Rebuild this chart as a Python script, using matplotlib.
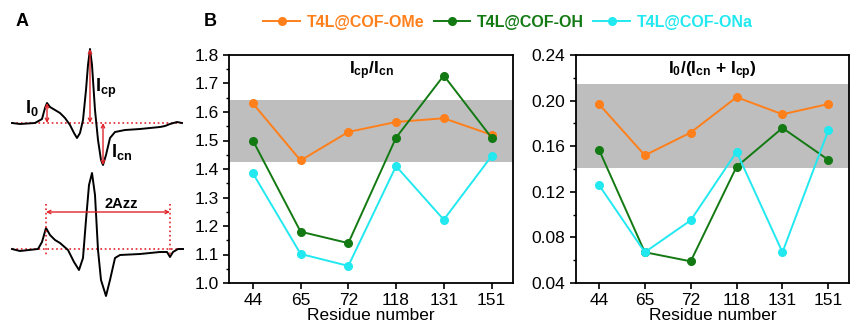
import numpy as np
import matplotlib.pyplot as plt
from matplotlib.ticker import MultipleLocator

plt.rcParams['font.family'] = ['Liberation Sans', 'DejaVu Sans']
plt.rcParams['mathtext.fontset'] = 'custom'
plt.rcParams['mathtext.rm'] = 'Liberation Sans'
plt.rcParams['mathtext.bf'] = 'Liberation Sans:bold'

# Data
residues = ['44', '65', '72', '118', '131', '151']
series = ['T4L@COF-OMe', 'T4L@COF-OH', 'T4L@COF-ONa']
colors = ['#FF7F1A', '#137A13', '#22E8F0']

ratio_ome = [1.63, 1.43, 1.53, 1.565, 1.578, 1.52]
ratio_oh = [1.50, 1.18, 1.14, 1.51, 1.728, 1.51]
ratio_ona = [1.385, 1.102, 1.06, 1.41, 1.222, 1.445]
ratio_band = [1.423, 1.643]

i0_ome = [0.197, 0.152, 0.172, 0.203, 0.188, 0.197]
i0_oh = [0.157, 0.067, 0.059, 0.142, 0.176, 0.148]
i0_ona = [0.126, 0.067, 0.095, 0.155, 0.067, 0.174]
i0_band = [0.141, 0.215]

# schematic EPR spectra (field, intensity above baseline)
spec1_x = [12, 20, 35, 42, 45, 47, 50, 55, 60, 65, 70, 74, 77, 80, 83, 86, 88, 90,
           92, 95, 98, 101, 103, 106, 110, 115, 125, 140, 160, 165, 170, 177, 182]
spec1_y = [0, -1, 0, 4, 15, 20, 16, 13, 10, 5, -2, -10, -15, -10, 3, 33, 58, 74,
           58, 13, -17, -37, -42, -32, -15, -9, -7, -6, -4, -3, -1, 1, 0]
spec2_x = [12, 20, 38, 42, 46, 50, 55, 60, 68, 74, 79, 83, 86, 89, 92, 95, 98, 101,
           106, 110, 115, 120, 140, 160, 167, 170, 173, 178, 183]
spec2_y = [0, -2, 0, 7, 21, 14, 9, 6, -1, -13, -21, -9, 29, 64, 76, 54, -1, -31,
           -47, -31, -9, -6, -5, -3, -3, -8, -3, 0, 0]

fig = plt.figure(figsize=(8.51, 3.27), dpi=100)

# Panel A
axA = fig.add_axes([0, 0, 190 / 851, 1])
axA.set_xlim(0, 190)
axA.set_ylim(327, 0)
axA.axis('off')
red = '#E0242A'
base1, base2 = 123, 249
s1x, s1y = np.array(spec1_x), base1 - np.array(spec1_y)
s2x, s2y = np.array(spec2_x), base2 - np.array(spec2_y)
axA.hlines(base1, 12, 182, color=red, ls=':', lw=1.2)
axA.hlines(base2, 12, 183, color=red, ls=':', lw=1.2)
axA.plot(s1x, s1y, color='k', lw=1.4)
axA.plot(s2x, s2y, color='k', lw=1.4)
i_p0 = int(np.argmin(s1y[:10]))
i_cp = int(np.argmin(s1y))
i_cn = int(np.argmax(s1y))
arrow = dict(arrowstyle='<->', color=red, lw=1.0, mutation_scale=6, shrinkA=0, shrinkB=0)
for i in [i_p0, i_cp, i_cn]:
    axA.annotate('', xy=(s1x[i], s1y[i]), xytext=(s1x[i], base1), arrowprops=arrow)
axA.text(32, 108, r'$\mathbf{I_0}$', fontsize=13, ha='center', va='center')
axA.text(106, 88, r'$\mathbf{I_{cp}}$', fontsize=13, ha='center', va='center')
axA.text(122, 152, r'$\mathbf{I_{cn}}$', fontsize=13, ha='center', va='center')
j_l = int(np.argmin(s2y[:10]))
j_r = len(spec2_x) - 4
for j in [j_l, j_r]:
    axA.vlines(s2x[j], 204, 257, color=red, ls=':', lw=1.2)
axA.annotate('', xy=(s2x[j_l], 212), xytext=(s2x[j_r], 212), arrowprops=arrow)
axA.text(121, 204, '2Azz', fontsize=10.5, fontweight='bold', ha='center', va='center')
fig.text(22 / 851, 1 - 22 / 327, 'A', fontsize=13, fontweight='bold', ha='center', va='center')
fig.text(210 / 851, 1 - 22 / 327, 'B', fontsize=13, fontweight='bold', ha='center', va='center')

# Panel B
x = np.arange(len(residues))
ax1 = fig.add_axes([229 / 851, 44 / 327, 284 / 851, 228 / 327])
ax2 = fig.add_axes([576 / 851, 44 / 327, 273 / 851, 228 / 327])

def draw(ax, data, band, ylim, major, minor, title, fmt):
    ax.axhspan(band[0], band[1], color='#BEBEBE', lw=0, zorder=0)
    lines = []
    for vals, c, name in zip(data, colors, series):
        ln, = ax.plot(x, vals, color=c, lw=1.4, marker='o', ms=5.5,
                      mec=c, mfc=c, label=name)
        lines.append(ln)
    ax.set_xlim(-0.5, 5.45)
    ax.set_ylim(*ylim)
    ax.set_xticks(x)
    ax.set_xticklabels(residues)
    ax.yaxis.set_major_locator(MultipleLocator(major))
    ax.yaxis.set_minor_locator(MultipleLocator(minor))
    ax.yaxis.set_major_formatter(fmt)
    ax.tick_params(axis='both', labelsize=12.5, direction='out', width=1.2, length=4)
    ax.tick_params(axis='y', which='minor', length=2.5, width=1)
    ax.set_xlabel('Residue number', fontsize=12.5, labelpad=0)
    for sp in ax.spines.values():
        sp.set_linewidth(1.3)
    ax.text(0.5, 0.93, title, transform=ax.transAxes, ha='center', va='center',
            fontsize=12.5, fontweight='bold')
    return lines

lines = draw(ax1, [ratio_ome, ratio_oh, ratio_ona], ratio_band, (1.0, 1.8), 0.1, 0.05,
             r'$\mathbf{I_{cp}/I_{cn}}$', '{x:.1f}')
draw(ax2, [i0_ome, i0_oh, i0_ona], i0_band, (0.04, 0.24), 0.04, 0.02,
     r'$\mathbf{I_0/(I_{cn}}$ + $\mathbf{I_{cp})}$', '{x:.2f}')

leg = fig.legend(handles=lines, loc='center', bbox_to_anchor=(508 / 851, 1 - 22 / 327),
                 ncol=3, frameon=False, fontsize=11.5, handlelength=2.3,
                 columnspacing=0.6, handletextpad=0.4)
for txt, c in zip(leg.get_texts(), colors):
    txt.set_color(c)
    txt.set_fontweight('bold')

fig.savefig('out.png', dpi=100)
